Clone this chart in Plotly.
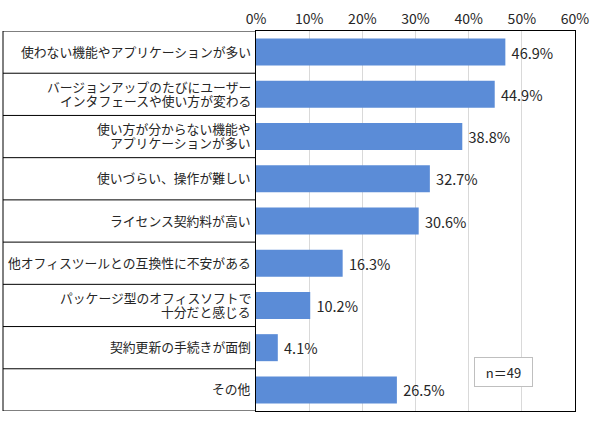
import plotly.graph_objects as go

categories = [
    "使わない機能やアプリケーションが多い",
    "バージョンアップのたびにユーザー\nインタフェースや使い方が変わる",
    "使い方が分からない機能や\nアプリケーションが多い",
    "使いづらい、操作が難しい",
    "ライセンス契約料が高い",
    "他オフィスツールとの互換性に不安がある",
    "パッケージ型のオフィスソフトで\n十分だと感じる",
    "契約更新の手続きが面倒",
    "その他",
]
values = [46.9, 44.9, 38.8, 32.7, 30.6, 16.3, 10.2, 4.1, 26.5]
tick_vals = [0, 10, 20, 30, 40, 50, 60]
tick_text = ["0%", "10%", "20%", "30%", "40%", "50%", "60%"]
note = "n＝49"

FONT = "Noto Sans CJK JP"
TXT = "#262626"
n = len(categories)
W, H = 590, 422
L, R, T, B = 256, 15, 31, 11
table_left = (3 - L) / (W - L - R)

fig = go.Figure(go.Bar(
    x=values, y=list(range(n)), orientation="h",
    marker=dict(color="#5B8CD7", line=dict(width=0)),
    texttemplate=" %{x:.1f}%", textposition="outside",
    textfont=dict(family=FONT, size=14.5, color=TXT),
    cliponaxis=False,
))

shapes = []
for i in range(n + 1):
    shapes.append(dict(type="line", xref="paper", yref="y",
                       x0=table_left, x1=0, y0=i - 0.5, y1=i - 0.5,
                       line=dict(color="black", width=1)))
shapes.append(dict(type="line", xref="paper", yref="y",
                   x0=table_left, x1=table_left, y0=-0.5, y1=n - 0.5,
                   line=dict(color="black", width=1)))

annotations = []
for i, cat in enumerate(categories):
    lines = cat.split("\n")
    for j, line in enumerate(lines):
        shift = (len(lines) - 1) / 2 * 14 - j * 14
        annotations.append(dict(
            text=line, x=0, xref="paper", y=i, yref="y",
            xanchor="right", yanchor="middle", xshift=-3, yshift=shift + 1,
            showarrow=False, font=dict(family=FONT, size=12.8, color=TXT)))

annotations.append(dict(
    text=note, x=(533 - L) / (W - L - R), xref="paper",
    y=(H - B - 387) / (H - T - B), yref="paper",
    showarrow=False, width=55, height=26,
    bordercolor="#BFBFBF", borderwidth=1, bgcolor="white",
    font=dict(family=FONT, size=13, color=TXT)))

fig.update_layout(
    width=W, height=H,
    margin=dict(l=L, r=R, t=T, b=B, autoexpand=False),
    paper_bgcolor="white", plot_bgcolor="white",
    showlegend=False, bargap=0.36,
    shapes=shapes, annotations=annotations,
    xaxis=dict(side="top", range=[0, 60], tickvals=tick_vals, ticktext=tick_text,
               showgrid=True, gridcolor="#D9D9D9", zeroline=False,
               showline=True, mirror=True, linecolor="black", linewidth=1,
               ticks="", automargin=False,
               tickfont=dict(family=FONT, size=14, color=TXT)),
    yaxis=dict(range=[n - 0.5, -0.5], showticklabels=False, showgrid=False,
               zeroline=False, showline=True, mirror=True, automargin=False,
               linecolor="black", linewidth=1),
)

# page body has a default 8px margin, remove it so the chart sits at 0,0
fig.write_html("out.html", config={"displayModeBar": False},
               post_script="document.body.style.margin='0';")
